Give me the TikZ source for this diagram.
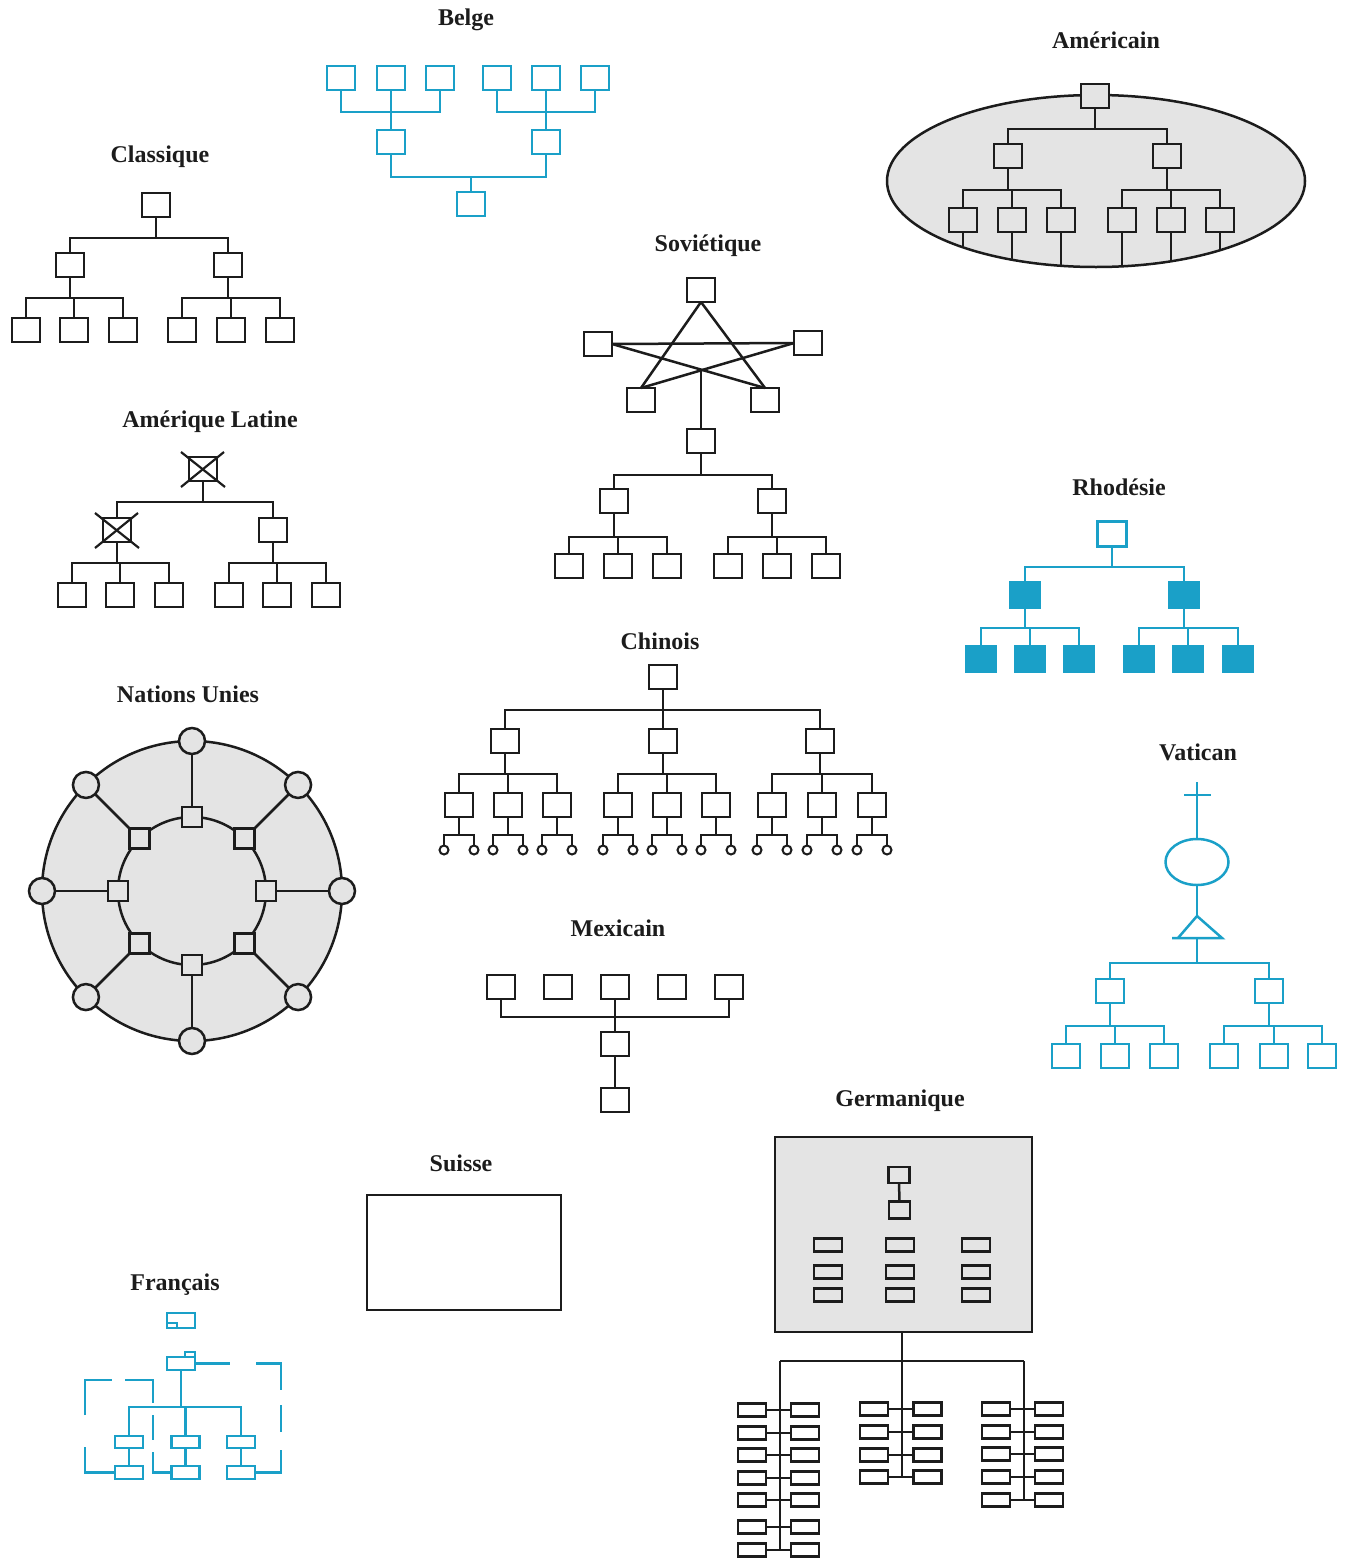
\documentclass[tikz,border=0pt]{standalone}
\usepackage{fontspec}
\setmainfont{Liberation Serif}
\usetikzlibrary{shapes.geometric,calc}
\definecolor{ink}{HTML}{1C1C1C}
\definecolor{cy}{HTML}{1AA0C8}
\definecolor{gr}{HTML}{E4E4E4}
\newcommand\orgtree[3]{\foreach \kid in {#3}{\draw (#1.south) -- (#1.south |- 0,#2) -| (\kid.north);}}
\newcommand\uptree[3]{\foreach \kid in {#3}{\draw (\kid.south) -- (\kid.south |- 0,#2) -| (#1.north);}}
\begin{document}
\begin{tikzpicture}[x=1pt,y=-1pt,line width=2.5pt,draw=ink,
  title/.style={font=\bfseries\fontsize{24}{26}\selectfont,text=ink,inner sep=0pt,yshift=-2pt},
  bx/.style={draw,rectangle,minimum width=28pt,minimum height=24pt,inner sep=0pt,outer sep=0pt},
  cbx/.style={bx,draw=cy},
  fbx/.style={bx,draw=cy,fill=cy,minimum width=29pt,minimum height=25pt},
  sbx/.style={bx,minimum width=28pt,minimum height=13pt},
  leaf/.style={draw,circle,minimum size=9pt,inner sep=0pt,outer sep=0pt,line width=2pt},
  nusq/.style={bx,fill=gr,minimum width=20pt,minimum height=20pt},
  nuci/.style={draw,circle,fill=gr,minimum size=26pt,inner sep=0pt,outer sep=0pt}]
\useasboundingbox[fill=white] (0,0) rectangle (1349,1558);

% ---------------- Classique
\node[title] (tCl) at (160,155) {Classique};
\node[bx] (cl0) at (156,205) {};
\node[bx] (cl1) at (70,265) {};
\node[bx] (cl2) at (228,265) {};
\foreach \n/\x in {3/26,4/74,5/123,6/182,7/231,8/280} \node[bx] (cl\n) at (\x,330) {};
\orgtree{cl0}{238}{cl1,cl2}
\orgtree{cl1}{298}{cl3,cl4,cl5}
\orgtree{cl2}{298}{cl6,cl7,cl8}

% ---------------- Belge
\node[title] (tBe) at (466,18) {Belge};
\begin{scope}[draw=cy]
\foreach \n/\x in {1/341,2/391,3/440,4/497,5/546,6/595} \node[cbx] (be\n) at (\x,78) {};
\node[cbx] (be7) at (391,142) {};
\node[cbx] (be8) at (546,142) {};
\node[cbx] (be9) at (471,204) {};
\uptree{be7}{112}{be1,be2,be3}
\uptree{be8}{112}{be4,be5,be6}
\uptree{be9}{177}{be7,be8}
\end{scope}

% ---------------- Americain
\node[title] (tAm) at (1106,38) {Américain};
\node[draw,ellipse,fill=gr,minimum width=418pt,minimum height=172pt,inner sep=0pt] (amE) at (1096,181) {};
\node[bx,fill=gr] (am0) at (1095,96) {};
\node[bx] (am1) at (1008,156) {};
\node[bx] (am2) at (1167,156) {};
\foreach \n/\x in {3/963,4/1012,5/1061,6/1122,7/1171,8/1220} \node[bx] (am\n) at (\x,220) {};
\orgtree{am0}{129}{am1,am2}
\orgtree{am1}{190}{am3,am4,am5}
\orgtree{am2}{190}{am6,am7,am8}
\begin{scope}
\clip (amE.center) ellipse [x radius=208, y radius=85];
\foreach \n in {3,...,8} \draw (am\n.south) -- (am\n.south |- 0,290);
\end{scope}

% ---------------- Sovietique
\node[title] (tSo) at (708,244) {Soviétique};
\node[bx] (sv0) at (701,290) {};
\node[bx] (sv1) at (598,344) {};
\node[bx] (sv2) at (808,343) {};
\node[bx] (sv3) at (641,400) {};
\node[bx] (sv4) at (765,400) {};
\node[bx] (sv5) at (701,441) {};
\node[bx] (sv6) at (614,501) {};
\node[bx] (sv7) at (772,501) {};
\foreach \n/\x in {8/569,9/618,10/667,11/728,12/777,13/826} \node[bx] (sv\n) at (\x,566) {};
\draw (sv0.south) -- (sv3.north);
\draw (sv0.south) -- (sv4.north);
\draw (sv1.east) -- (sv2.west);
\draw (sv1.east) -- (sv4.north);
\draw (sv2.west) -- (sv3.north);
\coordinate (svx) at (intersection of sv1.east--sv4.north and sv2.west--sv3.north);
\draw (sv5.north |- svx) -- (sv5.north);
\orgtree{sv5}{475}{sv6,sv7}
\orgtree{sv6}{537}{sv8,sv9,sv10}
\orgtree{sv7}{537}{sv11,sv12,sv13}

% ---------------- Amerique Latine
\node[title] (tAL) at (210,420) {Amérique Latine};
\node[bx] (al0) at (203,469) {};
\node[bx] (al1) at (117,530) {};
\node[bx] (al2) at (273,530) {};
\foreach \n/\x in {3/72,4/120,5/169,6/229,7/277,8/326} \node[bx] (al\n) at (\x,595) {};
\foreach \b in {al0,al1} {
  \draw[line width=2.2pt] ($(\b.center)+(-22,-17)$) -- ($(\b.center)+(22,18)$);
  \draw[line width=2.2pt] ($(\b.center)+(21,-17)$) -- ($(\b.center)+(-22,18)$);
}
\orgtree{al0}{502}{al1,al2}
\orgtree{al1}{563}{al3,al4,al5}
\orgtree{al2}{563}{al6,al7,al8}

% ---------------- Rhodesie
\node[title] (tRh) at (1119,485) {Rhodésie};
\begin{scope}[draw=cy]
\node[cbx,minimum width=29pt,minimum height=25pt] (rh0) at (1112,534) {};
\node[fbx] (rh1) at (1025,595) {};
\node[fbx] (rh2) at (1184,595) {};
\foreach \n/\x in {3/981,4/1030,5/1079,6/1139,7/1188,8/1238} \node[fbx] (rh\n) at (\x,659) {};
\orgtree{rh0}{567}{rh1,rh2}
\orgtree{rh1}{628}{rh3,rh4,rh5}
\orgtree{rh2}{628}{rh6,rh7,rh8}
\end{scope}

% ---------------- Chinois
\node[title] (tCh) at (660,639) {Chinois};
\node[bx] (ch0) at (663,677) {};
\node[bx] (ch1) at (505,741) {};
\node[bx] (ch2) at (663,741) {};
\node[bx] (ch3) at (820,741) {};
\foreach \n/\x in {4/459,5/508,6/557,7/618,8/667,9/716,10/772,11/822,12/872} {
  \node[bx] (ch\n) at (\x,805) {};
  \node[leaf] (chl\n) at (\x-15,850) {};
  \node[leaf] (chr\n) at (\x+15,850) {};
  \draw (ch\n.south) -- (ch\n.south |- 0,835) -| (chl\n.north);
  \draw (ch\n.south |- 0,835) -| (chr\n.north);
}
\orgtree{ch0}{710}{ch1,ch2,ch3}
\orgtree{ch1}{774}{ch4,ch5,ch6}
\orgtree{ch2}{774}{ch7,ch8,ch9}
\orgtree{ch3}{774}{ch10,ch11,ch12}

% ---------------- Nations Unies
\node[title] (tNU) at (188,692) {Nations Unies};
\node[draw,circle,fill=gr,minimum size=300pt,inner sep=0pt] (nuO) at (192,891) {};
\node[draw,circle,minimum size=148pt,inner sep=0pt] (nuI) at (192,891) {};
\foreach \i/\a in {0/90,1/45,2/0,3/-45,4/-90,5/-135,6/180,7/135} {
  \node[nusq] (nus\i) at ($(nuO.center)+(\a:74)$) {};
  \node[nuci] (nuc\i) at ($(nuO.center)+(\a:150)$) {};
  \draw (nus\i) -- (nuc\i);
}

% ---------------- Vatican
\node[title] (tVa) at (1198,750) {Vatican};
\begin{scope}[draw=cy]
\coordinate (vaT) at (1197,782);
\node[draw,ellipse,minimum width=63pt,minimum height=46pt,inner sep=0pt] (vaE) at (1197,862) {};
\draw (vaT) -- (vaE.north);
\draw (1184,795) -- (1211,795);
\coordinate (vaA) at (1197,916);
\coordinate (vaB) at (1197,938);
\draw (vaE.south) -- (vaA);
\draw (1172,938) -- (1222,938) -- (vaA) -- (1178,938);
\node[cbx] (va1) at (1110,991) {};
\node[cbx] (va2) at (1269,991) {};
\foreach \n/\x in {3/1066,4/1115,5/1164,6/1224,7/1274,8/1322} \node[cbx] (va\n) at (\x,1056) {};
\foreach \kid in {va1,va2} \draw (vaB) -- (vaB |- 0,963) -| (\kid.north);
\orgtree{va1}{1026}{va3,va4,va5}
\orgtree{va2}{1026}{va6,va7,va8}
\end{scope}

% ---------------- Mexicain
\node[title] (tMx) at (618,926) {Mexicain};
\foreach \n/\x in {1/501,2/558,3/615,4/672,5/729} \node[bx] (mx\n) at (\x,987) {};
\node[bx] (mx6) at (615,1044) {};
\node[bx] (mx7) at (615,1100) {};
\draw (mx1.south) -- (mx1.south |- 0,1017) -- (mx5.south |- 0,1017) -- (mx5.south);
\draw (mx3.south) -- (mx6.north);
\draw (mx6.south) -- (mx7.north);

% ---------------- Suisse
\node[title] (tSu) at (461,1161) {Suisse};
\node[draw,rectangle,minimum width=194pt,minimum height=115pt,inner sep=0pt] (su) at (464,1252.5) {};

% ---------------- Francais
\node[title] (tFr) at (175,1283) {Français};
\begin{scope}[draw=cy,line width=2.3pt]
\node[bx,draw=cy,minimum height=15pt] (fr1) at (181,1320.5) {};
\draw (fr1.south west) rectangle ++(10,-5);
\node[bx,draw=cy,minimum height=13pt] (fr2) at (181,1363.5) {};
\draw ($(fr2.north east)+(-10,0)$) rectangle ++(10,-5);
\foreach \n/\x in {3/129,4/185.5,5/241} \node[bx,draw=cy,minimum height=12pt] (fr\n) at (\x,1442) {};
\foreach \n/\x in {6/129,7/185.5,8/241} \node[bx,draw=cy,minimum height=13pt] (fr\n) at (\x,1472.5) {};
\orgtree{fr2}{1407}{fr3,fr4,fr5}
\draw (fr3.south) -- (fr6.north);
\draw (fr4.south) -- (fr7.north);
\draw (fr5.south) -- (fr8.north);
\draw (fr2.east) -- ++(35,0);
% dashed brackets
\draw (256,1363.5) -- (281,1363.5) -- (281,1390);
\draw (281,1405) -- (281,1432);
\draw (281,1450) -- (281,1472.5) -- (fr8.east);
\draw (85,1415) -- (85,1380) -- (112,1380);
\draw (125,1380) -- (153,1380) -- (153,1403);
\draw (153,1415) -- (153,1440);
\draw (85,1447) -- (85,0 |- fr6.west) -- (fr6.west);
\draw (153,1452) -- (153,0 |- fr7.west) -- (fr7.west);
\end{scope}

% ---------------- Germanique
\node[title] (tGe) at (900,1099) {Germanique};
\node[draw,rectangle,fill=gr,minimum width=257pt,minimum height=195pt,inner sep=0pt] (ge) at (903.5,1234.5) {};
\node[bx,minimum width=21pt,minimum height=16pt] (ge1) at (899,1175) {};
\node[bx,minimum width=21pt,minimum height=17pt] (ge2) at (899.5,1210) {};
\draw (ge1) -- (ge2);
\foreach \i/\x in {1/828,2/900,3/976}
  \foreach \j/\y in {1/1245,2/1272,3/1295}
    \node[sbx] (gm\i\j) at (\x,\y) {};
\coordinate (gs1) at (780,1361);
\coordinate (gs2) at (902,1361);
\coordinate (gs3) at (1024,1361);
\draw (ge.south -| gs2) -- (gs2);
\draw (gs1) -- (gs3);
\foreach \j/\y in {1/1410,2/1433,3/1455,4/1478,5/1500,6/1527,7/1550} {
  \node[sbx] (gaL\j) at (752,\y) {};
  \node[sbx] (gaR\j) at (805,\y) {};
  \draw (gaL\j.east) -- (gaR\j.west);
}
\foreach \j/\y in {1/1409,2/1432,3/1455,4/1477} {
  \node[sbx] (gbL\j) at (874,\y) {};
  \node[sbx] (gbR\j) at (927.5,\y) {};
  \draw (gbL\j.east) -- (gbR\j.west);
}
\foreach \j/\y in {1/1409,2/1432,3/1454,4/1477,5/1500} {
  \node[sbx] (gcL\j) at (996,\y) {};
  \node[sbx] (gcR\j) at (1049,\y) {};
  \draw (gcL\j.east) -- (gcR\j.west);
}
\draw (gs1) -- (gs1 |- gaL7.east);
\draw (gs2) -- (gs2 |- gbL4.east);
\draw (gs3) -- (gs3 |- gcL5.east);
\end{tikzpicture}
\end{document}
